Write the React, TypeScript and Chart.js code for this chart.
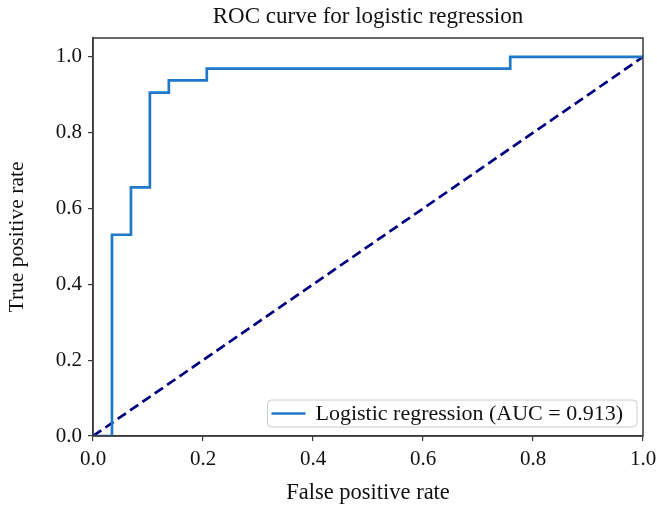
import React, { useEffect, useRef } from "react";
import { Chart, registerables } from "chart.js";

Chart.register(...registerables);

const rocFpr = [0, 0.0345, 0.0345, 0.069, 0.069, 0.1034, 0.1034, 0.1379, 0.1379, 0.2069, 0.2069, 0.7586, 0.7586, 1.0];
const rocTpr = [0, 0, 0.531, 0.531, 0.656, 0.656, 0.906, 0.906, 0.938, 0.938, 0.969, 0.969, 1.0, 1.0];
const chanceX = [0, 1];
const chanceY = [0, 1];
const xTicks = [0, 0.2, 0.4, 0.6, 0.8, 1.0];
const yTicks = [0, 0.2, 0.4, 0.6, 0.8, 1.0];
const rocLabel = "Logistic regression (AUC = 0.913)";
const titleText = "ROC curve for logistic regression";
const xTitle = "False positive rate";
const yTitle = "True positive rate";

const FONT = "'Liberation Serif', 'Times New Roman', serif";
const CURVE = "#1f78c8";
const NAVY = "#000080";
const AXIS = "#3a3a3a";

const framePlugin = {
  id: "frame",
  afterDraw(chart: any) {
    const { ctx, chartArea } = chart;
    ctx.save();
    ctx.strokeStyle = AXIS;
    ctx.lineWidth = 1.5;
    ctx.strokeRect(chartArea.left, chartArea.top, chartArea.right - chartArea.left, chartArea.bottom - chartArea.top);
    ctx.restore();
  },
};

const legendPlugin = {
  id: "innerLegend",
  afterDatasetsDraw(chart: any) {
    const { ctx, chartArea } = chart;
    const ds = chart.data.datasets[0];
    ctx.save();
    ctx.font = `22px ${FONT}`;
    const tw = ctx.measureText(ds.label).width;
    const right = chartArea.right - 6;
    const bottom = chartArea.bottom - 9;
    const h = 27;
    const w = 4 + 34 + 10 + tw + 14;
    const left = right - w;
    const top = bottom - h;
    ctx.beginPath();
    (ctx as any).roundRect(left, top, w, h, 4);
    ctx.fillStyle = "rgba(255,255,255,0.85)";
    ctx.fill();
    ctx.strokeStyle = "#cccccc";
    ctx.lineWidth = 1;
    ctx.stroke();
    const cy = top + h / 2;
    ctx.beginPath();
    ctx.moveTo(left + 4, cy);
    ctx.lineTo(left + 38, cy);
    ctx.strokeStyle = ds.borderColor;
    ctx.lineWidth = 2.7;
    ctx.stroke();
    ctx.fillStyle = "#111";
    ctx.textBaseline = "middle";
    ctx.textAlign = "left";
    ctx.fillText(ds.label, left + 48, cy + 1);
    ctx.restore();
  },
};

export default function App() {
  const ref = useRef<HTMLCanvasElement | null>(null);
  useEffect(() => {
    if (!ref.current) return;
    const chart = new Chart(ref.current, {
      type: "line",
      data: {
        datasets: [
          {
            label: rocLabel,
            data: rocFpr.map((x, i) => ({ x, y: rocTpr[i] })),
            borderColor: CURVE,
            borderWidth: 2.7,
            pointRadius: 0,
            tension: 0,
            fill: false,
          },
          {
            label: "chance",
            data: chanceX.map((x, i) => ({ x, y: chanceY[i] })),
            borderColor: NAVY,
            borderWidth: 2.7,
            borderDash: [10, 5],
            pointRadius: 0,
            tension: 0,
            fill: false,
          },
        ],
      },
      options: {
        animation: false,
        responsive: true,
        maintainAspectRatio: false,
        layout: { padding: { left: 0, right: 14, top: 0, bottom: 0 } },
        plugins: {
          legend: { display: false },
          tooltip: { enabled: false },
          title: {
            display: true,
            text: titleText,
            fullSize: false,
            color: "#111",
            font: { family: FONT, size: 23, weight: "normal" as any },
            padding: { top: 3, bottom: 7.4 },
          },
        },
        scales: {
          x: {
            type: "linear",
            min: 0,
            max: 1,
            afterFit(scale: any) {
              scale.height = 73;
              scale.paddingRight = 0;
              scale.paddingLeft = 0;
            },
            afterBuildTicks(scale: any) {
              scale.ticks = xTicks.map((v) => ({ value: v }));
            },
            ticks: {
              color: "#111",
              font: { family: FONT, size: 21 },
              padding: 6,
              maxRotation: 0,
              callback: (v: any) => Number(v).toFixed(1),
            },
            grid: { drawOnChartArea: false, drawTicks: true, tickLength: 5, color: AXIS, lineWidth: 1.2 },
            border: { display: true, color: AXIS, width: 1.5 },
            title: {
              display: true,
              text: xTitle,
              color: "#111",
              font: { family: FONT, size: 22.5 },
              padding: { top: 0, bottom: 2 },
            },
          },
          y: {
            type: "linear",
            min: 0,
            max: 1.05,
            afterFit(scale: any) {
              scale.width = 93;
              scale.paddingTop = 0;
              scale.paddingBottom = 0;
            },
            afterBuildTicks(scale: any) {
              scale.ticks = yTicks.map((v) => ({ value: v }));
            },
            ticks: {
              color: "#111",
              font: { family: FONT, size: 21 },
              padding: 6,
              callback: (v: any) => Number(v).toFixed(1),
            },
            grid: { drawOnChartArea: false, drawTicks: true, tickLength: 5, color: AXIS, lineWidth: 1.2 },
            border: { display: true, color: AXIS, width: 1.5 },
            title: {
              display: true,
              text: yTitle,
              color: "#111",
              font: { family: FONT, size: 21.5 },
              padding: { top: 4, bottom: 0 },
            },
          },
        },
      },
      plugins: [framePlugin, legendPlugin],
    });
    return () => chart.destroy();
  }, []);
  return (
    <div style={{ position: "absolute", left: 0, top: 0, width: 657, height: 509, background: "#fff" }}>
      <canvas ref={ref} />
    </div>
  );
}
